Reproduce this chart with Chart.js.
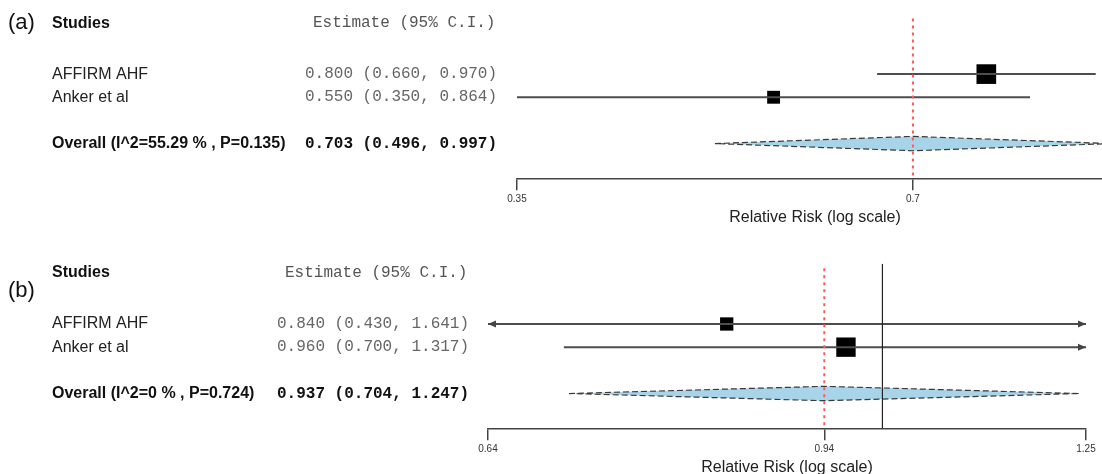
<!DOCTYPE html>
<html>
<head>
<meta charset="utf-8">
<script src="https://cdn.jsdelivr.net/npm/chart.js@4.4.1/dist/chart.umd.min.js"></script>
<style>
html, body { margin: 0; padding: 0; background: #fff; overflow: hidden; width: 1102px; height: 474px; }
canvas { position: absolute; left: 0; }
#chartA { top: 0; }
#chartB { top: 250px; }
</style>
</head>
<body>
<canvas id="chartA" width="1127" height="250"></canvas>
<canvas id="chartB" width="1102" height="250"></canvas>
<script>
var studies = ["AFFIRM AHF", "Anker et al"];

// panel (a) - the original axis runs past the right edge of the picture
var estA = [0.800, 0.550];
var lowA = [0.660, 0.350];
var highA = [0.970, 0.864];
var weightA = [70, 30];
var overallA = [0.703, 0.496, 0.997];
var hetA = "Overall (I^2=55.29 % , P=0.135)";
var tickValsA = [0.35, 0.703];
var tickLabelsA = ["0.35", "0.7"];
var rangeA = [0.35, 1.0];

// panel (b)
var estB = [0.840, 0.960];
var lowB = [0.430, 0.700];
var highB = [1.641, 1.317];
var weightB = [32, 68];
var overallB = [0.937, 0.704, 1.247];
var hetB = "Overall (I^2=0 % , P=0.724)";
var tickValsB = [0.643, 0.937, 1.256];
var tickLabelsB = ["0.64", "0.94", "1.25"];
var rangeB = [0.643, 1.256];

var studyRows = [2, 3], overallRow = 5, headerRow = -0.2;
var SANS = "'Liberation Sans', Arial, sans-serif";
var MONO = "'Courier New', 'Liberation Mono', monospace";

function fmt(e, l, h) {
	return e.toFixed(3) + " (" + l.toFixed(3) + ", " + h.toFixed(3) + ")";
}

function makePanel(id, p) {
	var datasets = [];
	// vertical line at the pooled estimate
	datasets.push({
		type: "line", data: [{x: p.overall[0], y: -0.4}, {x: p.overall[0], y: 6.5}],
		borderColor: "#ff5a5a", borderWidth: 2, borderDash: [3, 4], pointRadius: 0, clip: 0
	});
	if (p.nullLine) {
		datasets.push({
			type: "line", data: [{x: 1, y: -0.6}, {x: 1, y: 6.5}],
			borderColor: "#222", borderWidth: 1.2, pointRadius: 0, clip: 0
		});
	}
	for (var i = 0; i < studies.length; i++) {
		datasets.push({
			type: "line", data: [{x: p.low[i], y: studyRows[i]}, {x: p.high[i], y: studyRows[i]}],
			borderColor: "#4d4d4d", borderWidth: 2, pointRadius: 0, clip: 0
		});
	}
	var o = p.overall, h = 0.31;
	datasets.push({
		type: "line",
		data: [
			{x: o[1], y: overallRow}, {x: o[0], y: overallRow - h},
			{x: o[2], y: overallRow}, {x: o[0], y: overallRow + h}, {x: o[1], y: overallRow}
		],
		fill: "shape", backgroundColor: "#a8d4ea",
		borderColor: "#3a3a3a", borderWidth: 1.2, borderDash: [6, 3], pointRadius: 0, tension: 0, clip: 0
	});
	datasets.push({
		type: "scatter",
		data: p.est.map(function (e, i) { return {x: e, y: studyRows[i]}; }),
		pointStyle: "rect",
		pointRadius: p.weight.map(function (w) { return 2.35 * Math.sqrt(w) / Math.SQRT2; }),
		backgroundColor: "#000", borderColor: "#000", borderWidth: 0, clip: false
	});

	var textPlugin = {
		id: "forestText",
		afterDraw: function (chart) {
			var ctx = chart.ctx, y = chart.scales.y, x = chart.scales.x;
			var ca = chart.chartArea;
			ctx.save();
			ctx.textBaseline = "middle";
			// arrows where the interval runs off the axis
			ctx.fillStyle = "#444";
			for (var i = 0; i < studies.length; i++) {
				var py = y.getPixelForValue(studyRows[i]);
				if (p.low[i] < x.min) {
					ctx.beginPath();
					ctx.moveTo(ca.left, py); ctx.lineTo(ca.left + 8, py - 3.5); ctx.lineTo(ca.left + 8, py + 3.5);
					ctx.closePath(); ctx.fill();
				}
				if (p.high[i] > x.max) {
					ctx.beginPath();
					ctx.moveTo(ca.right, py); ctx.lineTo(ca.right - 8, py - 3.5); ctx.lineTo(ca.right - 8, py + 3.5);
					ctx.closePath(); ctx.fill();
				}
			}
			var hy = y.getPixelForValue(headerRow);
			ctx.fillStyle = "#111";
			ctx.font = "22px " + SANS;
			ctx.fillText(p.tag, 8, hy + p.tagDy);
			ctx.font = "bold 16px " + SANS;
			ctx.fillText("Studies", 52, hy);
			ctx.fillStyle = "#555";
			ctx.font = "16px " + MONO;
			ctx.fillText("Estimate (95% C.I.)", p.estX + 8, hy);
			for (var j = 0; j < studies.length; j++) {
				var ry = y.getPixelForValue(studyRows[j]);
				ctx.fillStyle = "#222";
				ctx.font = "16px " + SANS;
				ctx.fillText(studies[j], 52, ry);
				ctx.fillStyle = "#666";
				ctx.font = "16px " + MONO;
				ctx.fillText(fmt(p.est[j], p.low[j], p.high[j]), p.estX, ry);
			}
			var oy = y.getPixelForValue(overallRow);
			ctx.fillStyle = "#111";
			ctx.font = "bold 16px " + SANS;
			ctx.fillText(p.het, 52, oy);
			ctx.font = "bold 16px " + MONO;
			ctx.fillText(fmt(o[0], o[1], o[2]), p.estX, oy);
			ctx.restore();
		}
	};

	return new Chart(document.getElementById(id), {
		type: "scatter",
		data: {datasets: datasets},
		options: {
			responsive: false,
			animation: false,
			devicePixelRatio: 1,
			layout: {padding: {left: p.left, right: p.right, top: 10.5, bottom: 20.5}},
			plugins: {legend: {display: false}, tooltip: {enabled: false}},
			scales: {
				x: {
					type: "logarithmic",
					bounds: "data",
					min: p.range[0],
					max: p.range[1],
					afterBuildTicks: function (s) {
						s.ticks = p.ticks.map(function (v) { return {value: v}; });
					},
					ticks: {
						autoSkip: false,
						maxRotation: 0,
						padding: 3,
						color: "#333",
						font: {size: 10, family: SANS},
						callback: function (v, i) { return p.tickLabels[i]; }
					},
					grid: {display: true, drawOnChartArea: false, drawTicks: true, tickLength: 12, color: "#444", lineWidth: 1.5},
					border: {display: true, color: "#444", width: 1.5},
					title: {
						display: true,
						text: "Relative Risk (log scale)",
						color: "#222",
						font: {size: 16, family: SANS},
						padding: {top: 0, bottom: 2}
					}
				},
				y: {type: "linear", display: false, reverse: true, min: -0.6, max: 6.5}
			}
		},
		plugins: [textPlugin]
	});
}

makePanel("chartA", {
	tag: "(a)", tagDy: 0, est: estA, low: lowA, high: highA, weight: weightA, overall: overallA,
	het: hetA, ticks: tickValsA, tickLabels: tickLabelsA, range: rangeA,
	left: 517, right: 14, estX: 305, nullLine: false
});
makePanel("chartB", {
	tag: "(b)", tagDy: 18, est: estB, low: lowB, high: highB, weight: weightB, overall: overallB,
	het: hetB, ticks: tickValsB, tickLabels: tickLabelsB, range: rangeB,
	left: 488, right: 16, estX: 277, nullLine: true
});
</script>
</body>
</html>
